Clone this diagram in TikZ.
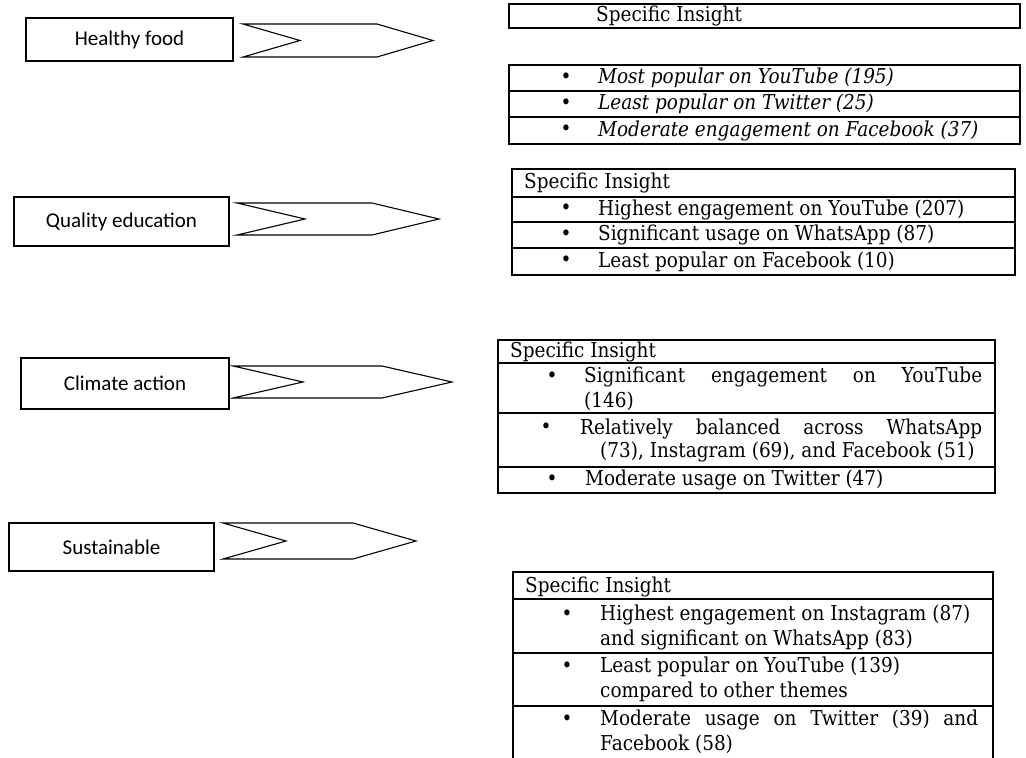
\documentclass[tikz,border=0pt]{standalone}
\usepackage{fontspec}
\setmainfont{DejaVu Serif}[FakeStretch=0.9]
\newfontfamily\calib{Carlito}
\tikzset{
  theme/.style={draw=black, line width=1.2pt, inner sep=0pt, font=\calib\fontsize{21}{25}\selectfont},
  chev/.style={draw=black, line width=1.1pt, line join=miter},
  cell/.style={draw=black, line width=1.1pt},
  txt/.style={anchor=west, inner sep=0pt, font=\fontsize{20.5}{25}\selectfont},
  itxt/.style={txt, font=\fontsize{20.5}{25}\selectfont\itshape},
  bul/.style={inner sep=0pt, font=\fontsize{20.5}{25}\selectfont},
}
\begin{document}
\begin{tikzpicture}[x=1pt,y=-1pt]
\useasboundingbox (0,0) rectangle (1026,758);

% ---------- theme boxes ----------
\node[theme, minimum width=207pt, minimum height=43pt] (hf) at (129.5,39.5) {Healthy food};
\node[theme, minimum width=215pt, minimum height=49pt] (qe) at (121.5,221.5) {Quality education};
\node[theme, minimum width=208pt, minimum height=51pt] (ca) at (125,383.5) {Climate action};
\node[theme, minimum width=205pt, minimum height=48pt] (su) at (111.5,547) {Sustainable};

% ---------- chevrons ----------
\draw[chev] (243,24) -- (377,24) -- (433,40.5) -- (377,57) -- (243,57) -- (300,40.5) -- cycle;
\draw[chev] (237,203) -- (372,203) -- (439,219) -- (372,235) -- (237,235) -- (305,219) -- cycle;
\draw[chev] (233,366) -- (382,366) -- (452,382) -- (382,398) -- (233,398) -- (303,382) -- cycle;
\draw[chev] (223,523) -- (353,523) -- (416,541) -- (353,559) -- (223,559) -- (286,541) -- cycle;

% ---------- insight 1 ----------
\draw[cell] (509,4) rectangle (1020,28);
\node[txt] (h1) at (596,16) {Specific Insight};
\draw[cell] (509,65) rectangle (1020,144);
\draw[cell] (509,91) -- (1020,91);
\draw[cell] (509,117) -- (1020,117);
\node[bul] (b11) at (566,78) {•};
\node[itxt] (t11) at (598,78) {Most popular on YouTube (195)};
\node[bul] (b12) at (566,104) {•};
\node[itxt] (t12) at (598,104) {Least popular on Twitter (25)};
\node[bul] (b13) at (566,130.5) {•};
\node[itxt] (t13) at (598,130.5) {Moderate engagement on Facebook (37)};

% ---------- insight 2 ----------
\draw[cell] (512,169) rectangle (1015,275);
\draw[cell] (512,197) -- (1015,197);
\draw[cell] (512,222) -- (1015,222);
\draw[cell] (512,248) -- (1015,248);
\node[txt] (h2) at (524,183) {Specific Insight};
\node[bul] (b21) at (566,209.5) {•};
\node[txt] (t21) at (598,209.5) {Highest engagement on YouTube (207)};
\node[bul] (b22) at (566,235) {•};
\node[txt] (t22) at (598,235) {Significant usage on WhatsApp (87)};
\node[bul] (b23) at (566,261.5) {•};
\node[txt] (t23) at (598,261.5) {Least popular on Facebook (10)};

% ---------- insight 3 ----------
\draw[cell] (498,340) rectangle (995,493);
\draw[cell] (498,363) -- (995,363);
\draw[cell] (498,413) -- (995,413);
\draw[cell] (498,467) -- (995,467);
\node[txt] (h3) at (510,352) {Specific Insight};
\node[bul] (b31) at (552,377) {•};
\node[txt] (t31a) at (584,377) {\makebox[398pt][s]{Significant engagement on YouTube}};
\node[txt] (t31b) at (584,401) {(146)};
\node[bul] (b32) at (546,428.5) {•};
\node[txt] (t32a) at (580,428.5) {\makebox[402pt][s]{Relatively balanced across WhatsApp}};
\node[txt] (t32b) at (600,452) {(73), Instagram (69), and Facebook (51)};
\node[bul] (b33) at (552,480) {•};
\node[txt] (t33) at (585,480) {Moderate usage on Twitter (47)};

% ---------- insight 4 ----------
\draw[cell] (513,760) -- (513,572) -- (993,572) -- (993,760);
\draw[cell] (513,599) -- (993,599);
\draw[cell] (513,653) -- (993,653);
\draw[cell] (513,706) -- (993,706);
\node[txt] (h4) at (525,587) {Specific Insight};
\node[bul] (b41) at (567,615) {•};
\node[txt] (t41a) at (600,615) {Highest engagement on Instagram (87)};
\node[txt] (t41b) at (600,640) {and significant on WhatsApp (83)};
\node[bul] (b42) at (567,667) {•};
\node[txt] (t42a) at (600,667) {Least popular on YouTube (139)};
\node[txt] (t42b) at (600,692) {compared to other themes};
\node[bul] (b43) at (567,720) {•};
\node[txt] (t43a) at (600,720) {\makebox[378pt][s]{Moderate usage on Twitter (39) and}};
\node[txt] (t43b) at (600,744) {Facebook (58)};
\end{tikzpicture}
\end{document}
